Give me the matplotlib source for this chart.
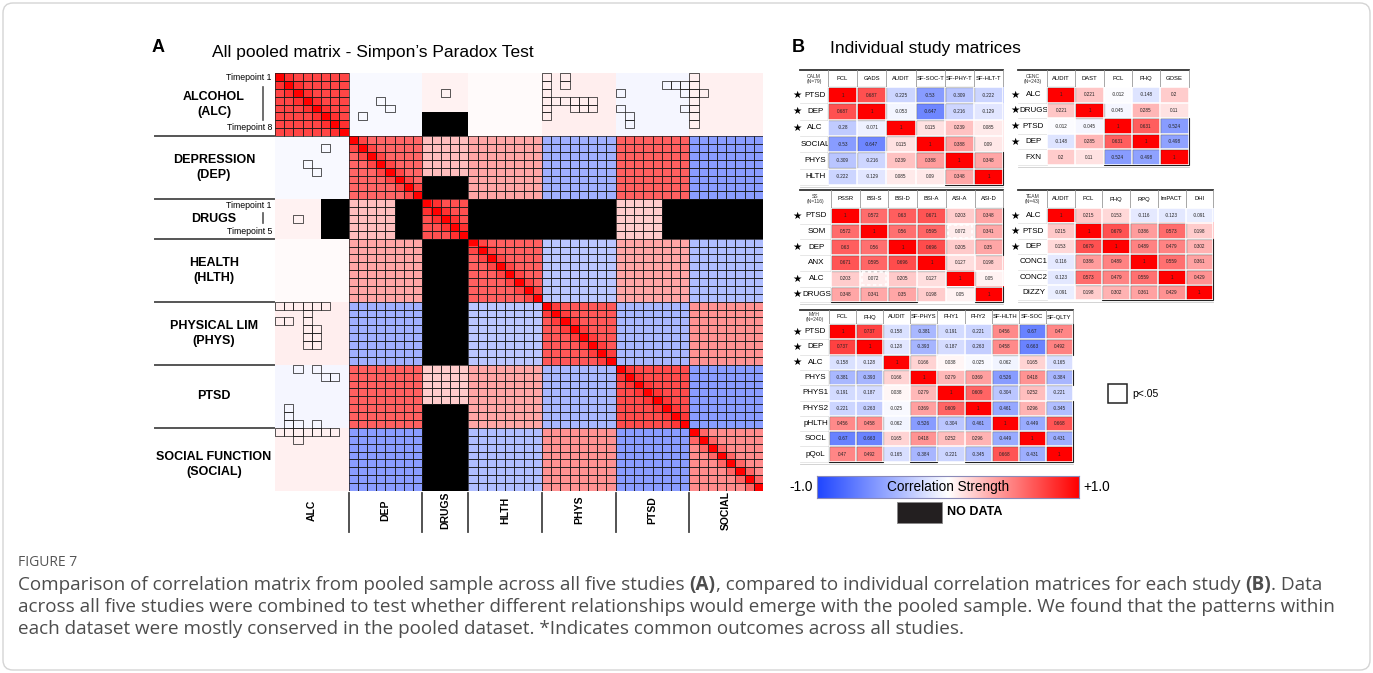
import numpy as np
import matplotlib
matplotlib.use("Agg")
import matplotlib.pyplot as plt
from matplotlib.colors import LinearSegmentedColormap
from matplotlib.patches import Rectangle, FancyBboxPatch
from matplotlib.collections import PatchCollection

plt.rcParams['font.family'] = ['Liberation Sans', 'DejaVu Sans']

W, H = 1373, 673

# ---------------- panel A : pooled matrix (block estimates)
groups = ["ALC", "DEP", "DRUGS", "HLTH", "PHYS", "PTSD", "SOCIAL"]
group_sizes = [8, 8, 5, 8, 8, 8, 8]
group_titles = ["ALCOHOL\n(ALC)", "DEPRESSION\n(DEP)", "DRUGS", "HEALTH\n(HLTH)",
                "PHYSICAL LIM\n(PHYS)", "PTSD", "SOCIAL FUNCTION\n(SOCIAL)"]
nan = np.nan
block_r = [
    [0.72, -0.03, 0.05, 0.02, 0.07, -0.04, 0.06],
    [-0.03, 0.60, 0.25, 0.35, -0.42, 0.62, -0.52],
    [0.05, 0.25, 0.68, nan, nan, 0.20, nan],
    [0.02, 0.35, nan, 0.62, -0.30, 0.35, -0.35],
    [0.07, -0.42, nan, -0.30, 0.65, -0.38, 0.42],
    [-0.04, 0.62, 0.20, 0.35, -0.38, 0.70, -0.52],
    [0.06, -0.52, nan, -0.35, 0.42, -0.52, 0.45],
]
adjacent_r = [0.80, 0.72, 0.80, 0.72, 0.75, 0.78, 0.60]   # neighbouring timepoints
drugs_missing_tp = [5, 6, 7]     # ALC / DEP / PTSD timepoints (0-based) with no DRUGS data
# significant ALC cells outside the ALC block: (ALC timepoint, group, timepoint), 0-based
alc_sig = [
    (2, "DRUGS", 2),
    (3, "DEP", 3), (4, "DEP", 4), (5, "DEP", 1),
    (0, "PHYS", 0), (1, "PHYS", 0), (2, "PHYS", 0), (3, "PHYS", 0), (4, "PHYS", 0), (5, "PHYS", 0),
    (0, "PHYS", 2), (1, "PHYS", 2),
    (3, "PHYS", 1), (3, "PHYS", 2), (3, "PHYS", 3), (3, "PHYS", 4), (3, "PHYS", 5),
    (4, "PHYS", 3), (4, "PHYS", 4), (4, "PHYS", 5),
    (2, "PTSD", 0), (4, "PTSD", 0), (5, "PTSD", 1), (6, "PTSD", 1),
    (1, "PTSD", 5), (1, "PTSD", 6), (1, "PTSD", 7), (2, "PTSD", 7), (4, "PTSD", 7),
    (0, "SOCIAL", 0), (1, "SOCIAL", 0), (2, "SOCIAL", 0), (3, "SOCIAL", 0),
    (4, "SOCIAL", 0), (5, "SOCIAL", 0), (6, "SOCIAL", 0), (2, "SOCIAL", 1),
]

# ---------------- panel B : individual study matrices
calm_cols = ["PCL", "GADS", "AUDIT", "SF-SOC-T", "SF-PHY-T", "SF-HLT-T"]
calm_rows = ["PTSD", "DEP", "ALC", "SOCIAL", "PHYS", "HLTH"]
calm_vals = [
    [1, 0.687, -0.225, -0.53, -0.309, -0.222],
    [0.687, 1, -0.053, -0.647, -0.216, -0.129],
    [-0.28, -0.071, 1, 0.115, 0.239, 0.085],
    [-0.53, -0.647, 0.115, 1, 0.388, 0.09],
    [-0.309, -0.216, 0.239, 0.388, 1, 0.348],
    [-0.222, -0.129, 0.085, 0.09, 0.348, 1],
]
cenc_cols = ["AUDIT", "DAST", "PCL", "PHQ", "GOSE"]
cenc_rows = ["ALC", "DRUGS", "PTSD", "DEP", "FXN"]
cenc_vals = [
    [1, 0.221, -0.012, -0.148, 0.2],
    [0.221, 1, -0.045, 0.285, 0.11],
    [-0.012, -0.045, 1, 0.631, -0.524],
    [-0.148, 0.285, 0.631, 1, -0.498],
    [0.2, 0.11, -0.524, -0.498, 1],
]
ss_cols = ["PSSR", "BSI-S", "BSI-D", "BSI-A", "ASI-A", "ASI-D"]
ss_rows = ["PTSD", "SOM", "DEP", "ANX", "ALC", "DRUGS"]
ss_vals = [
    [1, 0.572, 0.63, 0.671, 0.203, 0.348],
    [0.572, 1, 0.56, 0.595, 0.072, 0.341],
    [0.63, 0.56, 1, 0.696, 0.205, 0.35],
    [0.671, 0.595, 0.696, 1, 0.127, 0.198],
    [0.203, 0.072, 0.205, 0.127, 1, 0.05],
    [0.348, 0.341, 0.35, 0.198, 0.05, 1],
]
team_cols = ["AUDIT", "PCL", "PHQ", "RPQ", "ImPACT", "DHI"]
team_rows = ["ALC", "PTSD", "DEP", "CONC1", "CONC2", "DIZZY"]
team_vals = [
    [1, 0.215, 0.153, -0.116, -0.123, -0.091],
    [0.215, 1, 0.679, 0.386, 0.573, 0.198],
    [0.153, 0.679, 1, 0.489, 0.479, 0.302],
    [-0.116, 0.386, 0.489, 1, 0.559, 0.361],
    [-0.123, 0.573, 0.479, 0.559, 1, 0.429],
    [-0.091, 0.198, 0.302, 0.361, 0.429, 1],
]
myh_cols = ["PCL", "PHQ", "AUDIT", "SF-PHYS", "PHY1", "PHY2", "SF-HLTH", "SF-SOC", "SF-QLTY"]
myh_rows = ["PTSD", "DEP", "ALC", "PHYS", "PHYS1", "PHYS2", "pHLTH", "SOCL", "pQoL"]
myh_vals = [
    [1, 0.737, -0.158, -0.381, -0.191, -0.221, 0.456, -0.67, 0.47],
    [0.737, 1, -0.128, -0.393, -0.187, -0.263, 0.458, -0.663, 0.492],
    [-0.158, -0.128, 1, 0.166, 0.038, -0.025, -0.062, 0.165, -0.165],
    [-0.381, -0.393, 0.166, 1, 0.279, 0.369, -0.526, 0.418, -0.384],
    [-0.191, -0.187, 0.038, 0.279, 1, 0.609, -0.304, 0.252, -0.221],
    [-0.221, -0.263, -0.025, 0.369, 0.609, 1, -0.461, 0.296, -0.345],
    [0.456, 0.458, -0.062, -0.526, -0.304, -0.461, 1, -0.449, 0.668],
    [-0.67, -0.663, 0.165, 0.418, 0.252, 0.296, -0.449, 1, -0.431],
    [0.47, 0.492, -0.165, -0.384, -0.221, -0.345, 0.668, -0.431, 1],
]
common = {"PTSD", "DEP", "ALC", "DRUGS"}

cmap = LinearSegmentedColormap.from_list("corr", ["#1f45ff", "#ffffff", "#ff0000"])
cmap.set_bad("black")

fig = plt.figure(figsize=(W / 100, H / 100), dpi=100)
ov = fig.add_axes([0, 0, 1, 1])
ov.set_xlim(0, W)
ov.set_ylim(H, 0)
ov.axis("off")


def px_axes(x0, y0, x1, y1):
    return fig.add_axes([x0 / W, 1 - y1 / H, (x1 - x0) / W, (y1 - y0) / H])


ov.add_patch(FancyBboxPatch((3, 3), W - 6, H - 6, boxstyle="round,pad=0,rounding_size=10",
                            ec="#d4d4d4", fc="none", lw=1))

# ---- build pooled matrix
starts = np.concatenate([[0], np.cumsum(group_sizes)[:-1]])
n = sum(group_sizes)
M = np.zeros((n, n))
for a in range(7):
    for b in range(7):
        M[starts[a]:starts[a] + group_sizes[a], starts[b]:starts[b] + group_sizes[b]] = block_r[a][b]
    for i in range(group_sizes[a]):
        for j in range(group_sizes[a]):
            if abs(i - j) == 1:
                M[starts[a] + i, starts[a] + j] = adjacent_r[a]
np.fill_diagonal(M, 1)
gi = {g: k for k, g in enumerate(groups)}
d0, dn = starts[gi["DRUGS"]], group_sizes[gi["DRUGS"]]
for g in ["ALC", "DEP", "PTSD"]:
    for tp in drugs_missing_tp:
        c = starts[gi[g]] + tp
        M[d0:d0 + dn, c] = nan
        M[c, d0:d0 + dn] = nan

sig = ~np.isnan(M)
a0, an = 0, group_sizes[0]
sig[a0:an, an:] = False
sig[an:, a0:an] = False
for tp, g, tq in alc_sig:
    c = starts[gi[g]] + tq
    sig[tp, c] = sig[c, tp] = True

HX0, HY0, HX1, HY1 = 275, 73, 763, 491
ax = px_axes(HX0, HY0, HX1, HY1)
ax.imshow(np.ma.masked_invalid(M), cmap=cmap, vmin=-1, vmax=1, aspect="auto", interpolation="nearest")
rects = [Rectangle((j - 0.5, i - 0.5), 1, 1) for i, j in zip(*np.nonzero(sig))]
ax.add_collection(PatchCollection(rects, facecolor="none", edgecolor="#1a1a1a", lw=0.6, alpha=0.85))
ax.set_xlim(-0.5, n - 0.5)
ax.set_ylim(n - 0.5, -0.5)
ax.axis("off")

cw, ch = (HX1 - HX0) / n, (HY1 - HY0) / n
for k, g in enumerate(groups):
    top = HY0 + starts[k] * ch
    bot = top + group_sizes[k] * ch
    yc = (top + bot) / 2 + (5 if g == "SOCIAL" else 0)
    ov.text(214, yc, group_titles[k], ha="center", va="center", fontsize=9, fontweight="bold",
            linespacing=1.35)
    if k > 0:
        ov.plot([155, 274], [top, top], color="#555555", lw=1.4)
    left = HX0 + starts[k] * cw
    right = left + group_sizes[k] * cw
    ov.text((left + right) / 2, 510, g, rotation=90, ha="center", va="center",
            fontsize=7.5, fontweight="bold")
    if k > 0:
        ov.plot([left, left], [493, 532], color="#444444", lw=1.3)

ov.text(272, 78, "Timepoint 1", ha="right", va="center", fontsize=6.3)
ov.text(272, 128, "Timepoint 8", ha="right", va="center", fontsize=6.3)
ov.plot([263, 263], [87, 120], color="#555555", lw=1.2)
ov.text(272, 205, "Timepoint 1", ha="right", va="center", fontsize=6.3)
ov.text(272, 231, "Timepoint 5", ha="right", va="center", fontsize=6.3)
ov.plot([263, 263], [213, 223], color="#555555", lw=1.2)

ov.text(152, 47, "A", ha="left", va="center", fontsize=13, fontweight="bold")
ov.text(212, 52, "All pooled matrix - Simpon\u2019s Paradox Test", ha="left", va="center", fontsize=12.5)
ov.text(792, 47, "B", ha="left", va="center", fontsize=13, fontweight="bold")
ov.text(830, 48, "Individual study matrices", ha="left", va="center", fontsize=12.5)


# ---- small tables
def draw_table(name, n_obs, cols, rows, vals, x0, y0, cw, ch, lab_x0, head_h, dashed=()):
    vals = np.array(vals, float)
    nr, nc = vals.shape
    x1 = x0 + nc * cw
    t = px_axes(x0, y0, x1, y0 + nr * ch)
    t.imshow(vals, cmap=cmap, vmin=-1, vmax=1, aspect="auto", interpolation="nearest")
    for k in range(nc + 1):
        t.axvline(k - 0.5, color="white", lw=1.1)
    for k in range(nr + 1):
        t.axhline(k - 0.5, color="white", lw=1.1)
    for i in range(nr):
        for j in range(nc):
            v = vals[i, j]
            t.text(j, i, f"{v:g}", ha="center", va="center", fontsize=3.3, color="#222222")
            if i == j or abs(v) >= 0.3:
                t.add_patch(Rectangle((j - 0.5, i - 0.5), 1, 1, fill=False, ec="#222222",
                                      lw=0.8, clip_on=False))
    for i, j in dashed:
        t.add_patch(Rectangle((j - 0.42, i - 0.42), 0.84, 0.84, fill=False, ec="white",
                              lw=1.2, ls=(0, (2, 1.5)), clip_on=False))
    t.set_xlim(-0.5, nc - 0.5)
    t.set_ylim(nr - 0.5, -0.5)
    t.axis("off")

    ov.plot([lab_x0, x1], [y0 - head_h, y0 - head_h], color="#333333", lw=1.3)
    for k in range(nc + 1):
        ov.plot([x0 + k * cw] * 2, [y0 - head_h, y0], color="#999999", lw=0.6)
    for j, c in enumerate(cols):
        ov.text(x0 + (j + 0.5) * cw, y0 - head_h / 2, c, ha="center", va="center", fontsize=4.2)
    ov.text((lab_x0 + x0) / 2, y0 - head_h / 2, f"{name}\n(N={n_obs})", ha="center", va="center",
            fontsize=3.6, linespacing=1.0, color="#333333")
    for i, r in enumerate(rows):
        yc = y0 + (i + 0.5) * ch
        ov.text((lab_x0 + x0) / 2 + 1, yc, r, ha="center", va="center", fontsize=5.8)
        if r in common:
            ov.text(lab_x0 - 3, yc, "\u2605", ha="center", va="center", fontsize=7.5)
        ov.plot([lab_x0, x0], [y0 + (i + 1) * ch] * 2, color="#dddddd", lw=0.5)
    ov.plot([lab_x0, x1], [y0 + nr * ch + 2] * 2, color="#cccccc", lw=0.6)


draw_table("CALM", 79, calm_cols, calm_rows, calm_vals, 828, 87, 29.2, 16.3, 800, 17)
draw_table("CENC", 243, cenc_cols, cenc_rows, cenc_vals, 1047, 87, 28.3, 15.6, 1018, 17)
draw_table("SS", 116, ss_cols, ss_rows, ss_vals, 831, 208, 28.7, 15.7, 800, 18,
           dashed=[(1, 4), (4, 1)])
draw_table("TEAM", 43, team_cols, team_rows, team_vals, 1047, 208, 27.7, 15.4, 1018, 18)
draw_table("MYH", 240, myh_cols, myh_rows, myh_vals, 829, 324, 27.1, 15.3, 800, 14)

# p<.05 key
ov.add_patch(Rectangle((1108, 384), 19, 19, fill=False, ec="#222222", lw=1.1))
ov.text(1132, 394, "p<.05", ha="left", va="center", fontsize=7.5)

# colour bar
cb = px_axes(817, 476, 1079, 498)
cb.imshow(np.linspace(-1, 1, 256)[None, :], cmap=cmap, vmin=-1, vmax=1, aspect="auto",
          extent=(-1, 1, 0, 1))
cb.set_xticks([])
cb.set_yticks([])
for s in cb.spines.values():
    s.set_color("#8a8ab8")
    s.set_linewidth(0.8)
cb.text(0, 0.5, "Correlation Strength", ha="center", va="center", fontsize=9.8)
ov.text(813, 487, "-1.0", ha="right", va="center", fontsize=9.8)
ov.text(1083, 487, "+1.0", ha="left", va="center", fontsize=9.8)
ov.add_patch(Rectangle((897, 502), 45, 21, fc="#231f20", ec="#888888", lw=0.6))
ov.text(947, 512, "NO DATA", ha="left", va="center", fontsize=9, fontweight="bold")

# ---- caption
cap_color = "#4d4d4d"
cap_size = 13.6
ov.text(18, 562, "FIGURE 7", ha="left", va="center", fontsize=10, family="Open Sans",
        color="#555555")
renderer = fig.canvas.get_renderer()


def text_w(s, weight):
    tt = ov.text(0, 0, s, fontsize=cap_size, family="Open Sans", fontweight=weight)
    w = tt.get_window_extent(renderer=renderer).width
    tt.remove()
    return w


space_w = text_w("x x", "normal") - text_w("xx", "normal")
caption = [
    [("Comparison of correlation matrix from pooled sample across all five studies", "normal"),
     (" ", None), ("(A)", "bold"),
     (", compared to individual correlation matrices for each study", "normal"),
     (" ", None), ("(B)", "bold"), (". Data", "normal")],
    [("across all five studies were combined to test whether different relationships would "
      "emerge with the pooled sample. We found that the patterns within", "normal")],
    [("each dataset were mostly conserved in the pooled dataset. *Indicates common outcomes "
      "across all studies.", "normal")],
]
for line, y in zip(caption, [585, 607, 629]):
    x = 18
    for s, w in line:
        if w is None:
            x += space_w
            continue
        tt = ov.text(x, y, s, ha="left", va="center", fontsize=cap_size, family="Open Sans",
                     fontweight=w, color=cap_color)
        x += tt.get_window_extent(renderer=renderer).width

fig.savefig("out.png", dpi=100)
